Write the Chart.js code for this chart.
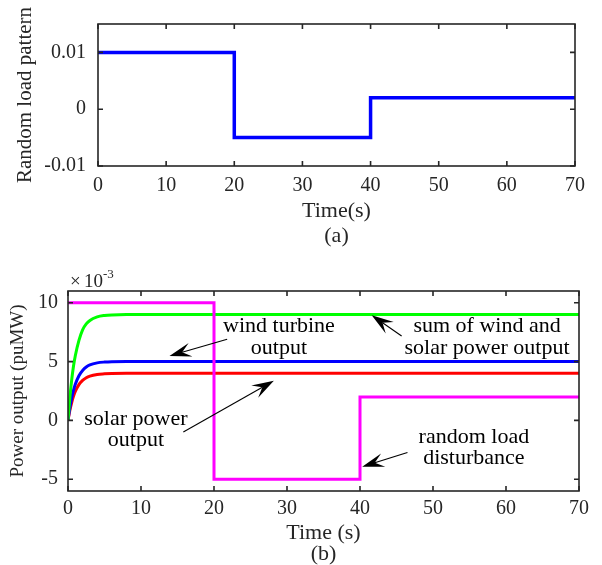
<!DOCTYPE html>
<html><head><meta charset="utf-8">
<script src="https://cdn.jsdelivr.net/npm/chart.js@4/dist/chart.umd.min.js"></script>
<style>
html,body{margin:0;padding:0;background:#fff;}
#wrap{position:relative;width:602px;height:565px;background:#fff;}
#c1{position:absolute;left:0;top:0;}
#c2{position:absolute;left:0;top:250px;}
</style></head>
<body><div id="wrap"><canvas id="c1" width="602" height="250"></canvas><canvas id="c2" width="602" height="315"></canvas></div>
<script>
// ---------- data ----------
const timeTicks = [0, 10, 20, 30, 40, 50, 60, 70];

// (a) random load pattern
const loadTimes = [0, 20, 40, 70];
const loadPattern = [0.01, -0.005, 0.002, 0.002];
const loadTicks = [-0.01, 0, 0.01];
const loadTickLabels = ['-0.01', '0', '0.01'];

// (b) power outputs (values in units of 1e-3 puMW)
const curveTimes = [0, 0.25, 0.5, 0.75, 1, 1.5, 2, 2.5, 3, 4, 5, 6, 8, 10, 70];
const sumPower   = [0, 1.9, 3.4, 4.6, 5.5, 6.8, 7.7, 8.2, 8.5, 8.8, 8.92, 8.97, 9.0, 9.0, 9.0];
const windPower  = [0, 1.06, 1.9, 2.55, 3.07, 3.8, 4.25, 4.54, 4.72, 4.89, 4.96, 4.99, 5.0, 5.0, 5.0];
const solarPower = [0, 0.85, 1.5, 2.04, 2.46, 3.04, 3.4, 3.63, 3.77, 3.91, 3.96, 3.99, 4.0, 4.0, 4.0];
const disturbanceTimes = [0, 20, 40, 70];
const disturbance = [10, -5, 2, 2];
const powerTicks = [-5, 0, 5, 10];

// annotation labels (anchored in data units)
const annotLabels = [
  {lines: ['wind turbine', 'output'], at: [28.9, 8.0], tail: [21.8, 6.9], head: [13.9, 5.48]},
  {lines: ['sum of wind and', 'solar power output'], at: [57.4, 8.0], tail: [45.7, 7.17], head: [41.6, 8.94]},
  {lines: ['solar power', 'output'], at: [9.3, 0.14], tail: [15.8, -0.99], head: [28.2, 3.37]},
  {lines: ['random load', 'disturbance'], at: [55.6, -1.41], tail: [46.5, -2.72], head: [40.3, -3.94]}
];

// ---------- helpers ----------
const FONT = "'Liberation Serif', 'Times New Roman', serif";
const TXT = '#262626';

const boxPlugin = {
  id: 'box',
  afterDatasetsDraw(chart) {
    const {ctx, chartArea: a, scales: {x, y}} = chart;
    ctx.save();
    ctx.strokeStyle = TXT;
    ctx.lineWidth = 1.6;
    const L = 5;
    ctx.beginPath();
    x.ticks.forEach(t => {
      const px = x.getPixelForValue(t.value);
      ctx.moveTo(px, a.bottom); ctx.lineTo(px, a.bottom - L);
      ctx.moveTo(px, a.top); ctx.lineTo(px, a.top + L);
    });
    y.ticks.forEach(t => {
      const py = y.getPixelForValue(t.value);
      ctx.moveTo(a.left, py); ctx.lineTo(a.left + L, py);
      ctx.moveTo(a.right, py); ctx.lineTo(a.right - L, py);
    });
    ctx.stroke();
    ctx.strokeRect(a.left, a.top, a.right - a.left, a.bottom - a.top);
    ctx.restore();
  }
};

function drawArrow(ctx, x0, y0, x1, y1) {
  const dx = x1 - x0, dy = y1 - y0;
  const len = Math.hypot(dx, dy);
  const ux = dx / len, uy = dy / len, nx = -uy, ny = ux;
  const HL = 22, HW = 14, notch = 0.6;
  const bx = x1 - ux * HL, by = y1 - uy * HL;
  const mx = x1 - ux * HL * notch, my = y1 - uy * HL * notch;
  ctx.beginPath();
  ctx.moveTo(x0, y0); ctx.lineTo(mx, my);
  ctx.lineWidth = 1.1; ctx.strokeStyle = '#000'; ctx.stroke();
  ctx.beginPath();
  ctx.moveTo(x1, y1);
  ctx.lineTo(bx + nx * HW / 2, by + ny * HW / 2);
  ctx.lineTo(mx, my);
  ctx.lineTo(bx - nx * HW / 2, by - ny * HW / 2);
  ctx.closePath();
  ctx.fillStyle = '#000'; ctx.fill();
}

const annotPlugin = {
  id: 'annot',
  afterDraw(chart) {
    const {ctx, scales: {x, y}, chartArea: a} = chart;
    ctx.save();
    ctx.font = "22px " + FONT;
    ctx.fillStyle = '#000';
    ctx.textAlign = 'center';
    ctx.textBaseline = 'middle';
    annotLabels.forEach(an => {
      const cx = x.getPixelForValue(an.at[0]);
      const cy = y.getPixelForValue(an.at[1]);
      an.lines.forEach((ln, i) => ctx.fillText(ln, cx, cy + i * 21.5));
      drawArrow(ctx, x.getPixelForValue(an.tail[0]), y.getPixelForValue(an.tail[1]),
                x.getPixelForValue(an.head[0]), y.getPixelForValue(an.head[1]));
    });
    // exponent label
    ctx.fillStyle = TXT;
    ctx.textAlign = 'left';
    ctx.textBaseline = 'alphabetic';
    ctx.font = "19px " + FONT;
    const ex = a.left + 2, ey = a.top - 4;
    ctx.fillText('\u00d7', ex, ey);
    ctx.fillText('10', ex + 14, ey);
    ctx.font = "13px " + FONT;
    ctx.fillText('-3', ex + 33, ey - 9);
    ctx.restore();
  }
};

function setTicks(arr) {
  return function (scale) { scale.ticks = arr.map(v => ({value: v})); };
}

// ---------- chart (a) ----------
new Chart(document.getElementById('c1'), {
  type: 'line',
  data: {
    datasets: [{
      data: loadTimes.map((t, i) => ({x: t, y: loadPattern[i]})),
      borderColor: '#0000ff', borderWidth: 3.5, pointRadius: 0, stepped: 'before', fill: false
    }]
  },
  options: {
    responsive: false, devicePixelRatio: 1, animation: false,
    layout: {padding: {top: 21, right: 27, left: 0, bottom: 0}},
    plugins: {legend: {display: false}, tooltip: {enabled: false}},
    scales: {
      x: {
        type: 'linear', min: 0, max: 70,
        afterBuildTicks: setTicks(timeTicks),
        afterFit(s) { s.height = 84; },
        grid: {display: false, drawTicks: false}, border: {display: false},
        ticks: {padding: 7.5, color: TXT, font: {family: FONT, size: 20, lineHeight: 1.2}, maxRotation: 0, autoSkip: false},
        title: {display: true, text: ['Time(s)', '(a)'], color: TXT, font: {family: FONT, size: 22, lineHeight: 25 / 22}, padding: {top: 0, bottom: 1}}
      },
      y: {
        min: -0.01, max: 0.015,
        afterBuildTicks: setTicks(loadTicks),
        afterFit(s) { s.width = 98; },
        grid: {display: false, drawTicks: false}, border: {display: false},
        ticks: {padding: 12, color: TXT, font: {family: FONT, size: 20},
          callback: (v) => loadTickLabels[loadTicks.findIndex(t => Math.abs(t - v) < 1e-9)]},
        title: {display: true, text: 'Random load pattern', color: TXT, font: {family: FONT, size: 21, lineHeight: 1.2}, padding: {top: 12.4, bottom: 0}}
      }
    }
  },
  plugins: [boxPlugin]
});

// ---------- chart (b) ----------
function series(vals, color) {
  return {
    data: curveTimes.map((t, i) => ({x: t, y: vals[i]})),
    borderColor: color, borderWidth: 3, pointRadius: 0, cubicInterpolationMode: 'monotone', fill: false
  };
}
new Chart(document.getElementById('c2'), {
  type: 'line',
  data: {
    datasets: [
      {data: disturbanceTimes.map((t, i) => ({x: t, y: disturbance[i]})),
       borderColor: '#ff00ff', borderWidth: 3, pointRadius: 0, stepped: 'before', fill: false},
      series(sumPower, '#00ff00'),
      series(windPower, '#0000ff'),
      series(solarPower, '#ff0000')
    ]
  },
  options: {
    responsive: false, devicePixelRatio: 1, animation: false,
    layout: {padding: {top: 41, right: 23, left: 0, bottom: 0}},
    plugins: {legend: {display: false}, tooltip: {enabled: false}},
    scales: {
      x: {
        type: 'linear', min: 0, max: 70,
        afterBuildTicks: setTicks(timeTicks),
        afterFit(s) { s.height = 74; },
        grid: {display: false, drawTicks: false}, border: {display: false},
        ticks: {padding: 5.3, color: TXT, font: {family: FONT, size: 20, lineHeight: 1.2}, maxRotation: 0, autoSkip: false},
        title: {display: true, text: ['Time (s)', '(b)'], color: TXT, font: {family: FONT, size: 22, lineHeight: 21 / 22}, padding: {top: 0, bottom: 0}}
      },
      y: {
        min: -6, max: 11,
        afterBuildTicks: setTicks(powerTicks),
        afterFit(s) { s.width = 68; },
        grid: {display: false, drawTicks: false}, border: {display: false},
        ticks: {padding: 10, color: TXT, font: {family: FONT, size: 20}},
        title: {display: true, text: 'Power output (puMW)', color: TXT, font: {family: FONT, size: 19, lineHeight: 1.2}, padding: {top: 6.9, bottom: 0}}
      }
    }
  },
  plugins: [boxPlugin, annotPlugin]
});
</script>
</body></html>
